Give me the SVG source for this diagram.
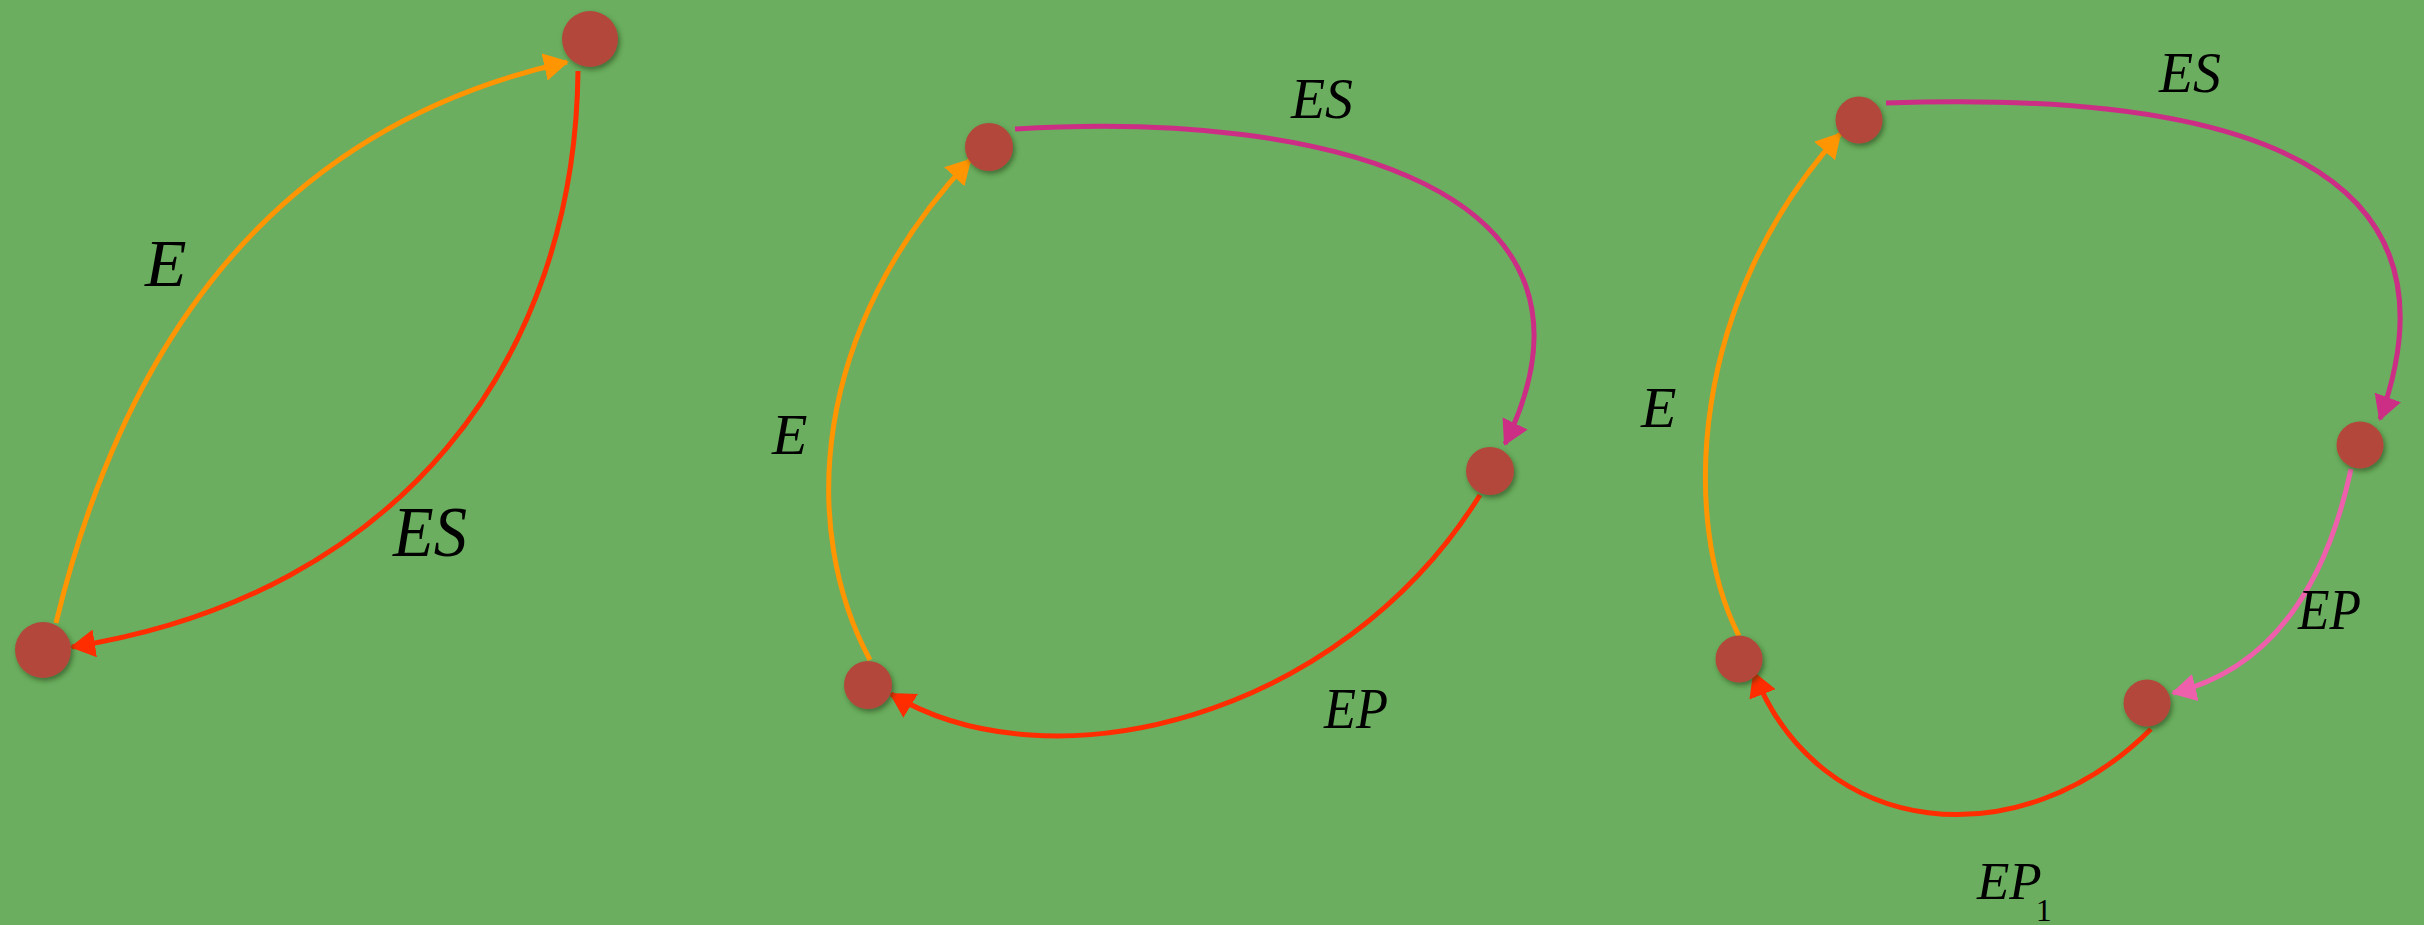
<svg xmlns="http://www.w3.org/2000/svg" width="2424" height="925" viewBox="0 0 2424 925">
  <style>
    .node { fill: #b3473a; filter: url(#shadow); }
    .edge { fill: none; stroke-linecap: butt; stroke-width: 5; }
    .orange { stroke: #ff9500; }
    .red { stroke: #ff2d00; }
    .magenta { stroke: #cc2e86; }
    .pink { stroke: #ee5fac; }
    .lbl { font-family: "Liberation Serif", "DejaVu Serif", serif; font-style: italic; fill: #000; }
    .sub { font-style: normal; }
  </style>
  <defs>
    <filter id="shadow" x="-30%" y="-30%" width="170%" height="170%">
      <feDropShadow dx="2" dy="3" stdDeviation="2.5" flood-color="#1e3a14" flood-opacity="0.55"/>
    </filter>
    <marker id="aOrange" markerUnits="strokeWidth" markerWidth="5.2" markerHeight="5.6" refX="4.6" refY="2.8" orient="auto">
      <path d="M0,0 L5,2.8 L0,5.6 z" fill="#ff9500"/>
    </marker>
    <marker id="aRed" markerUnits="strokeWidth" markerWidth="5.2" markerHeight="5.6" refX="4.6" refY="2.8" orient="auto">
      <path d="M0,0 L5,2.8 L0,5.6 z" fill="#ff2d00"/>
    </marker>
    <marker id="aMagenta" markerUnits="strokeWidth" markerWidth="5.2" markerHeight="5.6" refX="4.6" refY="2.8" orient="auto">
      <path d="M0,0 L5,2.8 L0,5.6 z" fill="#cc2e86"/>
    </marker>
    <marker id="aPink" markerUnits="strokeWidth" markerWidth="5.2" markerHeight="5.6" refX="4.6" refY="2.8" orient="auto">
      <path d="M0,0 L5,2.8 L0,5.6 z" fill="#ee5fac"/>
    </marker>
  </defs>

  <rect x="0" y="0" width="2424" height="925" fill="#6bae5f"/>

  <g id="connectors">
    <!-- panel 1 -->
    <path class="edge orange" marker-end="url(#aOrange)" d="M56,623 Q170,150 567,62"/>
    <path class="edge red" marker-end="url(#aRed)" d="M578,71 C575,360 400,595 72,647"/>
    <!-- panel 2 -->
    <path class="edge magenta" marker-end="url(#aMagenta)" d="M1015,129 C1330,110 1630,190 1505,444"/>
    <path class="edge red" marker-end="url(#aRed)" d="M1480,495 C1340,720 1050,790 891,694"/>
    <path class="edge orange" marker-end="url(#aOrange)" d="M870,660 C800,530 810,330 970,160"/>
    <!-- panel 3 -->
    <path class="edge magenta" marker-end="url(#aMagenta)" d="M1886,103 C2250,90 2470,170 2380,419"/>
    <path class="edge pink" marker-end="url(#aPink)" d="M2351,469 Q2310,660 2173,693"/>
    <path class="edge red" marker-end="url(#aRed)" d="M2151,729 C2020,860 1820,840 1754,673"/>
    <path class="edge orange" marker-end="url(#aOrange)" d="M1739,636 C1680,520 1690,300 1840,134"/>
  </g>

  <g id="labels">
    <text class="lbl" x="145" y="286" font-size="68">E</text>
    <text class="lbl" x="393" y="556" font-size="72" textLength="74" lengthAdjust="spacingAndGlyphs">ES</text>
    <text class="lbl" x="1291" y="118" font-size="58" textLength="62" lengthAdjust="spacingAndGlyphs">ES</text>
    <text class="lbl" x="772" y="454" font-size="58">E</text>
    <text class="lbl" x="1324" y="728" font-size="58" textLength="64" lengthAdjust="spacingAndGlyphs">EP</text>
    <text class="lbl" x="2159" y="92" font-size="58" textLength="62" lengthAdjust="spacingAndGlyphs">ES</text>
    <text class="lbl" x="1641" y="427" font-size="58">E</text>
    <text class="lbl" x="2298" y="629" font-size="56" textLength="63" lengthAdjust="spacingAndGlyphs">EP</text>
    <text class="lbl" x="1977" y="899" font-size="53">EP<tspan class="sub" font-size="32" dx="-6" dy="22">1</tspan></text>
  </g>

  <g id="n1a"><circle class="node" cx="590" cy="39" r="28"/></g>
  <g id="n1b"><circle class="node" cx="43" cy="650" r="28"/></g>
  <g id="n2a"><circle class="node" cx="989" cy="147" r="24"/></g>
  <g id="n2b"><circle class="node" cx="1490" cy="471" r="24"/></g>
  <g id="n2c"><circle class="node" cx="868" cy="685" r="24"/></g>
  <g id="n3a"><circle class="node" cx="1859" cy="120" r="23.5"/></g>
  <g id="n3b"><circle class="node" cx="2360" cy="445" r="23.5"/></g>
  <g id="n3c"><circle class="node" cx="2147" cy="703" r="23.5"/></g>
  <g id="n3d"><circle class="node" cx="1739" cy="659" r="23.5"/></g>
</svg>
